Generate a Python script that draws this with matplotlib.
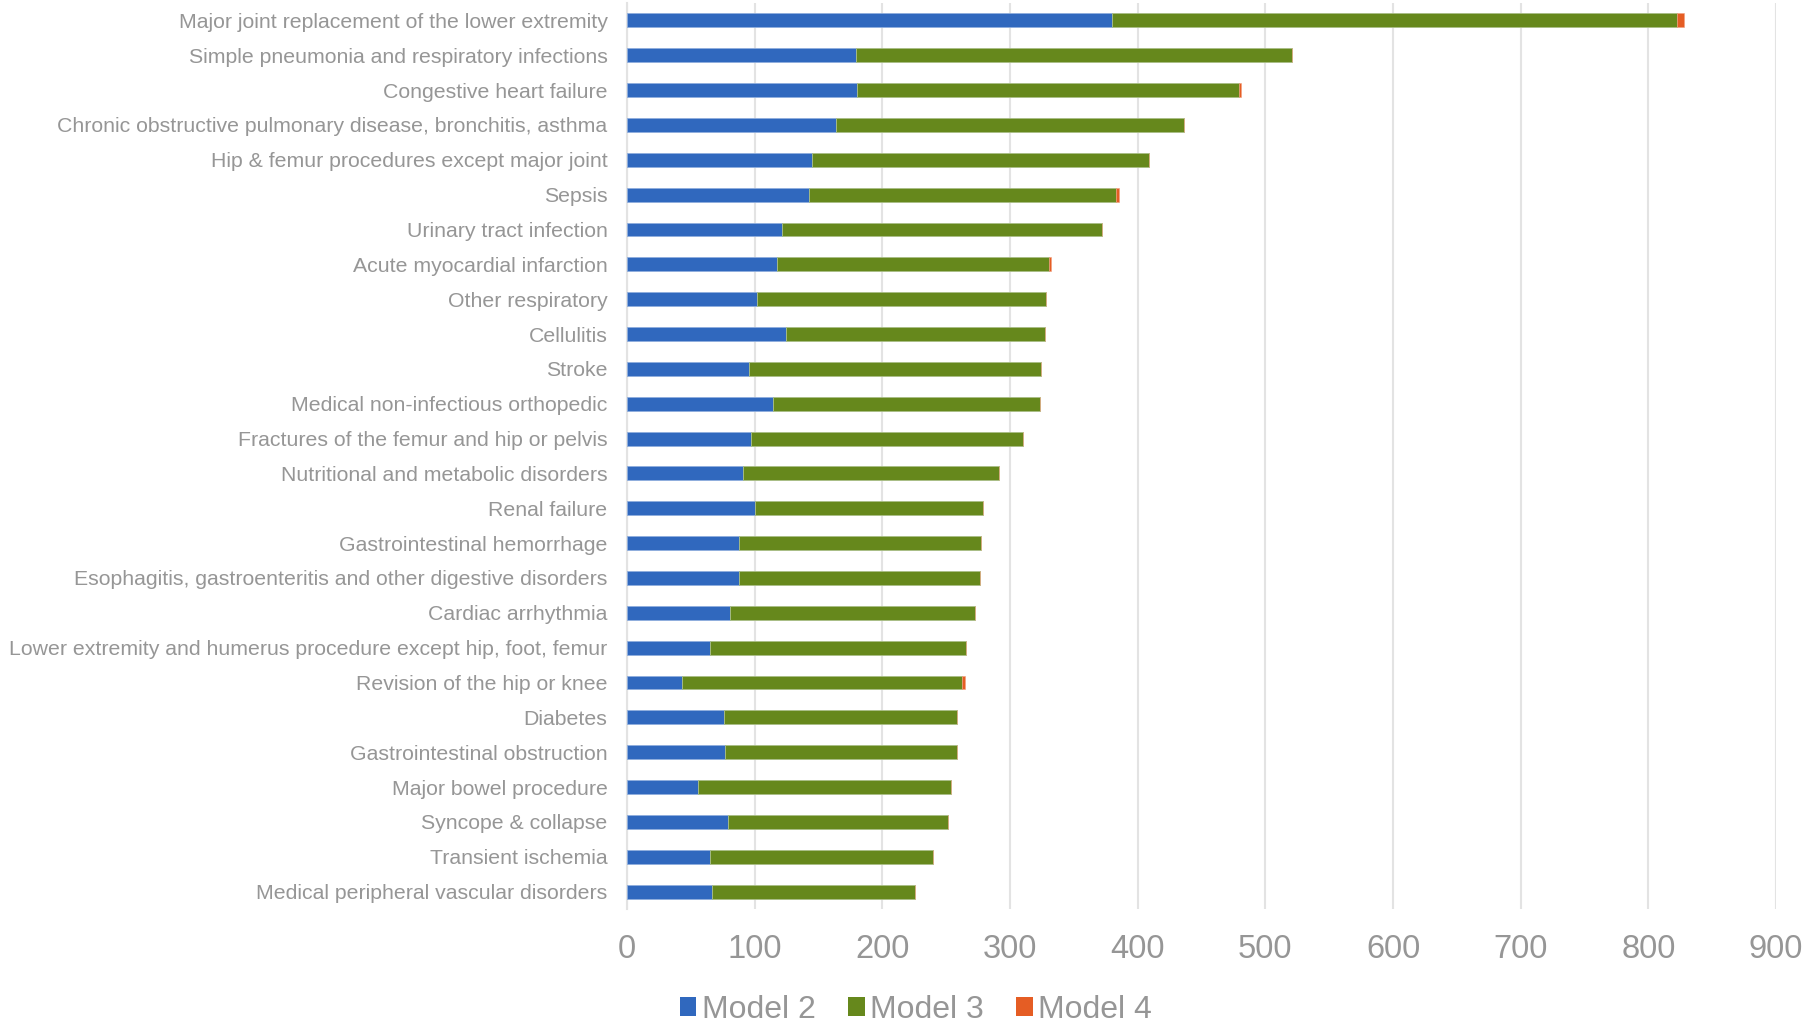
import matplotlib
matplotlib.use("Agg")
import matplotlib.pyplot as plt
import numpy as np
from matplotlib.patches import Patch

categories = [
    "Major joint replacement of the lower extremity",
    "Simple pneumonia and respiratory infections",
    "Congestive heart failure",
    "Chronic obstructive pulmonary disease, bronchitis, asthma",
    "Hip & femur procedures except major joint",
    "Sepsis",
    "Urinary tract infection",
    "Acute myocardial infarction",
    "Other respiratory",
    "Cellulitis",
    "Stroke",
    "Medical non-infectious orthopedic",
    "Fractures of the femur and hip or pelvis",
    "Nutritional and metabolic disorders",
    "Renal failure",
    "Gastrointestinal hemorrhage",
    "Esophagitis, gastroenteritis and other digestive disorders",
    "Cardiac arrhythmia",
    "Lower extremity and humerus procedure except hip, foot, femur",
    "Revision of the hip or knee",
    "Diabetes",
    "Gastrointestinal obstruction",
    "Major bowel procedure",
    "Syncope & collapse",
    "Transient ischemia",
    "Medical peripheral vascular disorders",
]
model2 = [380, 179.6, 180.4, 163.9, 144.9, 142.8, 121.6, 117.7, 102.0, 124.8,
          95.8, 114.6, 97.1, 91.1, 100.0, 88.0, 88.0, 80.9, 65.0, 43.3,
          76.2, 77.0, 55.9, 78.8, 65.0, 66.8]
model3 = [442.3, 341.4, 299.1, 272.3, 263.6, 240.2, 250.6, 213.0, 226.4, 202.5,
          228.6, 208.8, 213.3, 200.5, 178.5, 189.5, 188.4, 191.9, 200.5, 219.0,
          182.5, 181.7, 197.6, 172.8, 174.4, 159.0]
model4 = [5.5, 0, 1.3, 0, 0, 2.5, 0, 1.1, 0, 0,
          0, 0, 0, 0, 0, 0, 0, 0, 0, 2.4,
          0, 0, 0, 0, 0, 0]
series_names = ["Model 2", "Model 3", "Model 4"]
xticks = [0, 100, 200, 300, 400, 500, 600, 700, 800, 900]

colors = ["#3068BE", "#66881C", "#E55D24"]
text_gray = "#969696"
plt.rcParams["font.family"] = ["Liberation Sans", "DejaVu Sans"]

fig = plt.figure(figsize=(18.19, 10.22), dpi=100)
ax = fig.add_axes([627/1819, 1 - 909/1022, (1776 - 627)/1819, (909 - 3)/1022])

y = np.arange(len(categories))
m2 = np.array(model2); m3 = np.array(model3); m4 = np.array(model4)
h = 0.4
ax.barh(y, m2, height=h, color=colors[0], edgecolor="#8FAEDD", linewidth=0.6, zorder=3)
ax.barh(y, m3, left=m2, height=h, color=colors[1], edgecolor="#A9BE86", linewidth=0.6, zorder=3)
ax.barh(y, m4, left=m2 + m3, height=h, color=colors[2], edgecolor="#F2A07E", linewidth=0.4, zorder=3)

ax.set_ylim(len(categories) - 0.5, -0.5)
ax.set_xlim(0, 900)
ax.set_xticks(xticks)
ax.set_xticklabels([str(v) for v in xticks])
ax.set_yticks(y)
ax.set_yticklabels(categories)
ax.grid(axis="x", color="#E3E3E3", linewidth=1.5, zorder=0)
ax.grid(axis="y", visible=False)
for s in ["top", "right", "bottom"]:
    ax.spines[s].set_visible(False)
ax.spines["left"].set_color("#E3E3E3")
ax.spines["left"].set_linewidth(1.5)
ax.tick_params(axis="both", length=0)
ax.tick_params(axis="y", pad=14, labelsize=15.3, labelcolor=text_gray)
ax.tick_params(axis="x", pad=18, labelsize=23.5, labelcolor=text_gray)

handles = [Patch(facecolor=c, edgecolor="none") for c in colors]
fig.legend(handles, series_names, loc="center", bbox_to_anchor=(916/1819, 1 - 1010/1022),
           ncol=3, frameon=False, fontsize=23, labelcolor=text_gray,
           handlelength=0.52, handleheight=0.52, handletextpad=0.18, columnspacing=1.0,
           borderaxespad=0, borderpad=0)

fig.savefig("out.png", dpi=100)
